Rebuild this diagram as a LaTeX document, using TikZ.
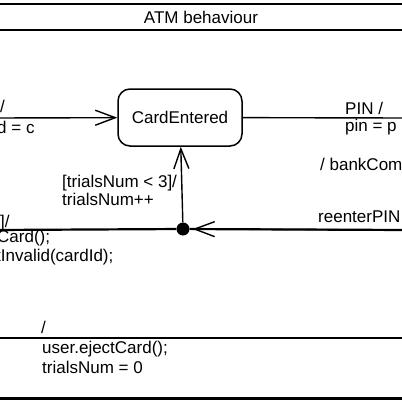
\documentclass[tikz,border=0pt]{standalone}
\usepackage{fontspec}
\setmainfont{Liberation Sans}
\usetikzlibrary{arrows.meta}
\begin{document}
\begin{tikzpicture}[x=1pt,y=-1pt,
  lbl/.style={inner sep=0pt,anchor=base west,font=\fontsize{17}{20}\selectfont},
  statebox/.style={draw,line width=1.5pt,rounded corners=12pt,minimum width=124pt,minimum height=57pt,inner sep=0pt,font=\fontsize{17}{20}\selectfont},
  junc/.style={circle,fill=black,minimum size=13pt,inner sep=0pt},
  trans/.style={line width=1.4pt,-{Straight Barb[length=20pt,width=15pt,line width=1.4pt]}},
  frame/.style={line width=1.8pt}]
\useasboundingbox (0,0) rectangle (402,402);
\clip (0,0) rectangle (402,402);
% frame lines
\draw[frame] (-5,4) -- (407,4);
\draw[frame] (-5,30) -- (407,30);
\draw[line width=1.6pt] (-5,338) -- (407,338);
\draw[line width=3pt] (-5,398) -- (407,398);
\node[inner sep=0pt,font=\fontsize{17}{20}\selectfont,anchor=base] (title) at (201,23) {ATM behaviour};
% state
\node[statebox] (ce) at (180,117.5) {CardEntered};
\node[junc] (j) at (183,229) {};
\coordinate (lin) at (-5,118);
\coordinate (rout) at (407,118);
\coordinate (lout) at (-5,230);
\coordinate (rin) at (407,230);
\draw[trans] (lin) -- (ce);
\draw[line width=1.4pt] (ce) -- (rout);
\draw[trans] (j) -- (ce);
\draw[line width=2.2pt] (j) -- (lout);
\draw[line width=2.2pt] (rin) -- (j);
\draw[line width=1.4pt,-{Straight Barb[length=20pt,width=15pt,line width=1.4pt]},shorten >=3pt] (rin) -- (j);
% labels
\node[lbl,anchor=base east] (l1) at (5,112) {/};
\node[lbl] (l2) at (-3,133) {d = c};
\node[lbl] (pin1) at (345,114) {PIN /};
\node[lbl] (pin2) at (345,131) {pin = p};
\node[lbl] (bank) at (320,170) {/ bankCom};
\node[lbl] (reen) at (318,222) {reenterPIN};
\node[lbl] (g1) at (62,187) {[trialsNum < 3]/};
\node[lbl] (g2) at (62,205) {trialsNum++};
\node[lbl] (b1) at (0,227) {]/};
\node[lbl] (b2) at (-3,242) {Card();};
\node[lbl] (b3) at (-4,261) {tInvalid(cardId);};
\node[lbl] (e1) at (41,333) {/};
\node[lbl] (e2) at (42,353) {user.ejectCard();};
\node[lbl] (e3) at (42,373) {trialsNum = 0};
\end{tikzpicture}
\end{document}
